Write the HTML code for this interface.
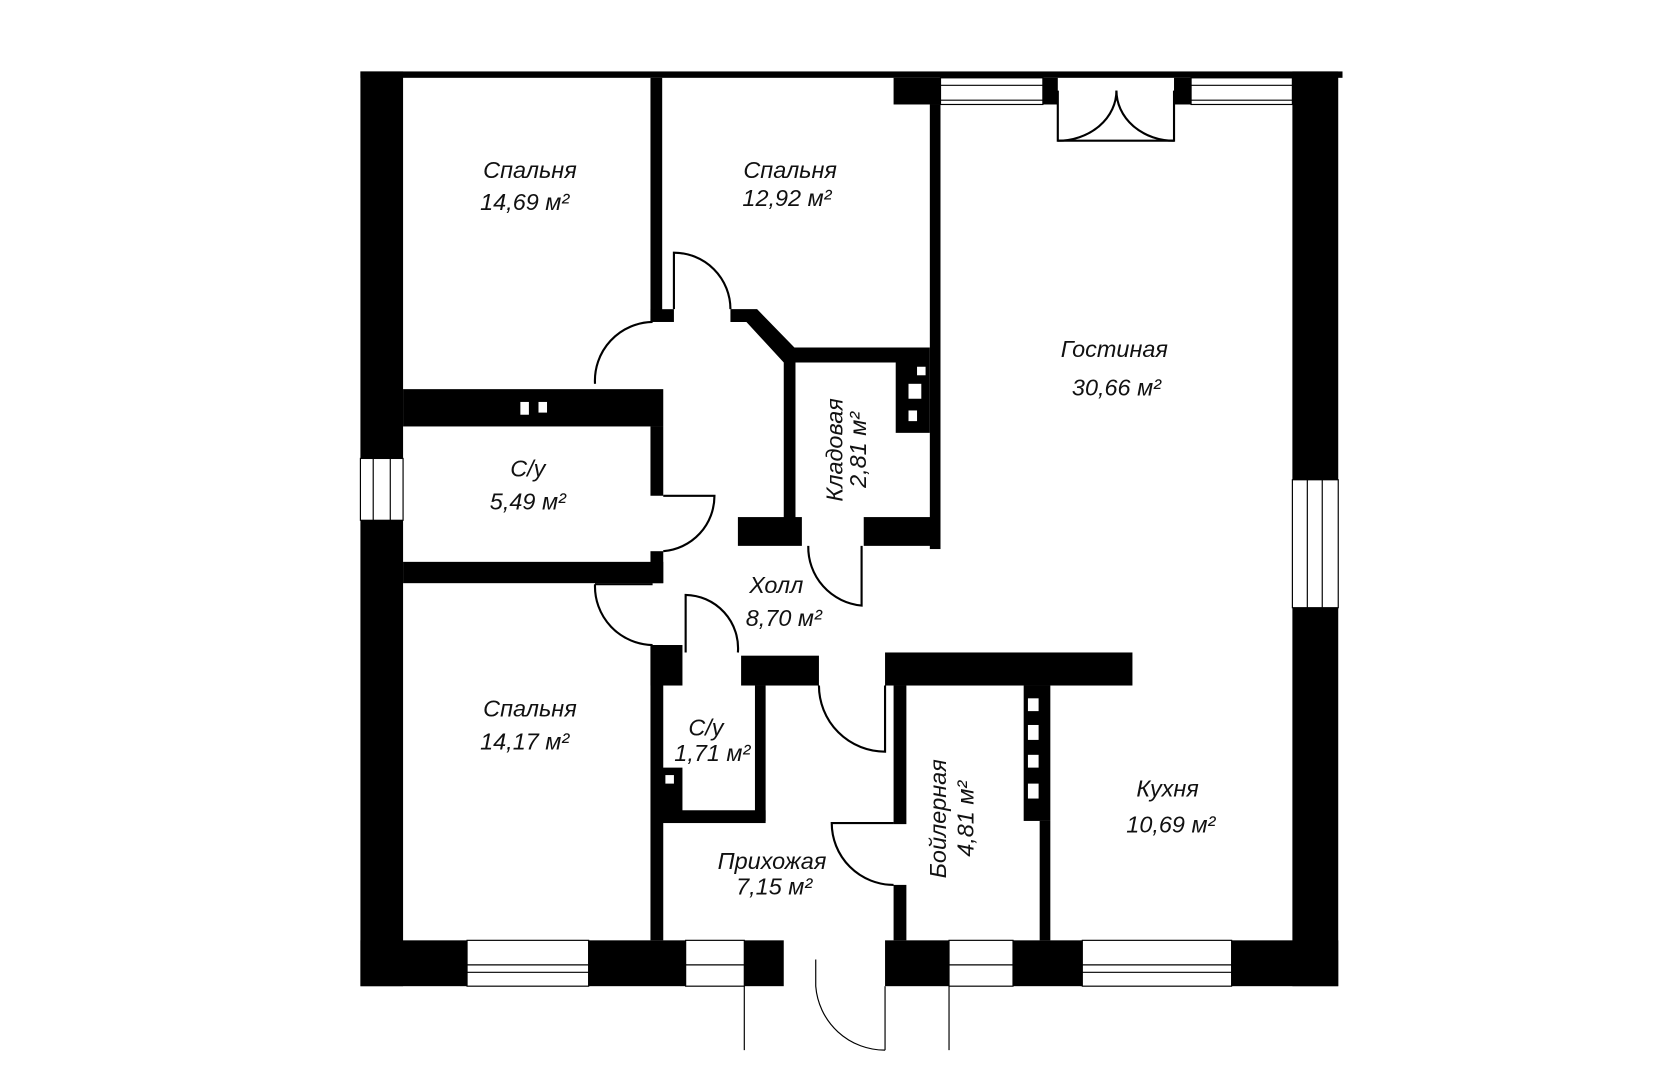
<!DOCTYPE html>
<html><head><meta charset="utf-8"><style>
html,body{margin:0;padding:0;background:#fff;}
svg{display:block;}
text{font-family:"Liberation Sans",sans-serif;font-style:italic;font-size:22px;fill:#111;}
</style></head><body>
<svg width="1672" height="1080" viewBox="0 0 1568 1013" preserveAspectRatio="none" xmlns="http://www.w3.org/2000/svg">
<rect width="1568" height="1013" fill="#fff"/>
<g fill="#000">
<rect x="338" y="67" width="921" height="6"/>
<rect x="338" y="67" width="40" height="363"/>
<rect x="338" y="488" width="40" height="437"/>
<rect x="1212" y="67" width="43" height="383"/>
<rect x="1212" y="570" width="43" height="355"/>
<rect x="338" y="882" width="100" height="43"/>
<rect x="552" y="882" width="91" height="43"/>
<rect x="698" y="882" width="37" height="43"/>
<rect x="830" y="882" width="60" height="43"/>
<rect x="950" y="882" width="65" height="43"/>
<rect x="1155" y="882" width="100" height="43"/>
<rect x="838" y="73" width="44" height="25"/>
<rect x="978" y="73" width="14" height="25"/>
<rect x="1101" y="73" width="16" height="25"/>
<rect x="610" y="73" width="11" height="228"/>
<rect x="610" y="290" width="22" height="12"/>
<rect x="872" y="98" width="10" height="417"/>
<polygon points="685,290 710,290 745,326 872,326 872,340 745,340 735,340 700,302 685,302"/>
<rect x="378" y="365" width="244" height="35"/>
<rect x="610" y="400" width="12" height="65"/>
<rect x="610" y="517" width="12" height="30"/>
<rect x="378" y="527" width="244" height="20"/>
<rect x="610" y="605" width="12" height="277"/>
<rect x="610" y="605" width="30" height="38"/>
<rect x="735" y="340" width="11" height="150"/>
<rect x="692" y="485" width="60" height="27"/>
<rect x="810" y="485" width="72" height="27"/>
<rect x="840" y="340" width="32" height="66"/>
<rect x="695" y="615" width="73" height="28"/>
<rect x="830" y="612" width="232" height="31"/>
<rect x="708" y="643" width="10" height="127"/>
<rect x="618" y="760" width="100" height="12"/>
<rect x="618" y="720" width="22" height="42"/>
<rect x="838" y="643" width="12" height="130"/>
<rect x="838" y="830" width="12" height="52"/>
<rect x="960" y="643" width="25" height="127"/>
<rect x="975" y="770" width="10" height="112"/>
</g>
<g fill="#fff">
<rect x="488" y="377" width="8" height="12"/><rect x="505" y="377" width="8" height="10"/>
<rect x="860" y="344" width="8" height="8"/><rect x="852" y="360" width="12" height="14"/><rect x="852" y="385" width="8" height="10"/>
<rect x="964" y="655" width="10" height="12"/><rect x="964" y="680" width="10" height="14"/><rect x="964" y="708" width="10" height="12"/><rect x="964" y="735" width="10" height="14"/>
<rect x="624" y="727" width="8" height="8"/>
</g>
<g stroke="#000" stroke-width="1.1" fill="none">
<rect x="338" y="430" width="40" height="58"/><line x1="350" y1="430" x2="350" y2="488"/><line x1="366" y1="430" x2="366" y2="488"/>
<rect x="1212" y="450" width="43" height="120"/><line x1="1226" y1="450" x2="1226" y2="570"/><line x1="1240" y1="450" x2="1240" y2="570"/>
<rect x="438" y="882" width="114" height="43"/><line x1="438" y1="905" x2="552" y2="905"/><line x1="438" y1="912" x2="552" y2="912"/>
<rect x="643" y="882" width="55" height="43"/><line x1="643" y1="905" x2="698" y2="905"/>
<rect x="890" y="882" width="60" height="43"/><line x1="890" y1="905" x2="950" y2="905"/>
<rect x="1015" y="882" width="140" height="43"/><line x1="1015" y1="905" x2="1155" y2="905"/><line x1="1015" y1="912" x2="1155" y2="912"/>
<rect x="882" y="73" width="96" height="25"/><line x1="882" y1="80" x2="978" y2="80"/><line x1="882" y1="94" x2="978" y2="94"/>
<rect x="1117" y="73" width="95" height="25"/><line x1="1117" y1="80" x2="1212" y2="80"/><line x1="1117" y1="94" x2="1212" y2="94"/>
<line x1="698" y1="925" x2="698" y2="985"/><line x1="830" y1="925" x2="830" y2="985"/><line x1="890" y1="925" x2="890" y2="985"/>
<path d="M765,900 L765,925 A65,65 0 0 0 830,985"/>
</g>
<g stroke="#000" stroke-width="2" fill="none">
<path d="M992,85 L992,132 L1101,132 L1101,85"/>
<path d="M1047,85 A55,47 0 0 1 992,132"/>
<path d="M1047,85 A54,47 0 0 0 1101,132"/>
<path d="M632,290 L632,237 A53,53 0 0 1 685,290"/>
<path d="M612,302 A55,55 0 0 0 558,360"/>
<path d="M622,465 L670,465 A52,52 0 0 1 622,517"/>
<path d="M558,548 L612,548 M558,548 A55,55 0 0 0 612,605"/>
<path d="M758,512 A55,55 0 0 0 808,568 L808,512"/>
<path d="M643,612 L643,558 A50,50 0 0 1 692,612"/>
<path d="M830,643 L830,705 A62,62 0 0 1 768,643"/>
<path d="M838,772 L780,772 A58,58 0 0 0 838,830"/>
</g>
<text x="497" y="167" text-anchor="middle">Спальня</text>
<text x="492" y="197" text-anchor="middle">14,69 м²</text>
<text x="741" y="167" text-anchor="middle">Спальня</text>
<text x="738" y="193" text-anchor="middle">12,92 м²</text>
<text x="1045" y="335" text-anchor="middle">Гостиная</text>
<text x="1047" y="371" text-anchor="middle">30,66 м²</text>
<text x="495" y="447" text-anchor="middle">С/у</text>
<text x="495" y="478" text-anchor="middle">5,49 м²</text>
<text x="728" y="556" text-anchor="middle">Холл</text>
<text x="735" y="587" text-anchor="middle">8,70 м²</text>
<text x="497" y="672" text-anchor="middle">Спальня</text>
<text x="492" y="703" text-anchor="middle">14,17 м²</text>
<text x="662" y="690" text-anchor="middle">С/у</text>
<text x="668" y="714" text-anchor="middle">1,71 м²</text>
<text x="724" y="815" text-anchor="middle">Прихожая</text>
<text x="726" y="839" text-anchor="middle">7,15 м²</text>
<text x="1095" y="747" text-anchor="middle">Кухня</text>
<text x="1098" y="781" text-anchor="middle">10,69 м²</text>
<text transform="translate(790,422) rotate(-90)" text-anchor="middle">Кладовая</text>
<text transform="translate(812,422) rotate(-90)" text-anchor="middle">2,81 м²</text>
<text transform="translate(887,768) rotate(-90)" text-anchor="middle">Бойлерная</text>
<text transform="translate(913,768) rotate(-90)" text-anchor="middle">4,81 м²</text>
</svg>
</body></html>
